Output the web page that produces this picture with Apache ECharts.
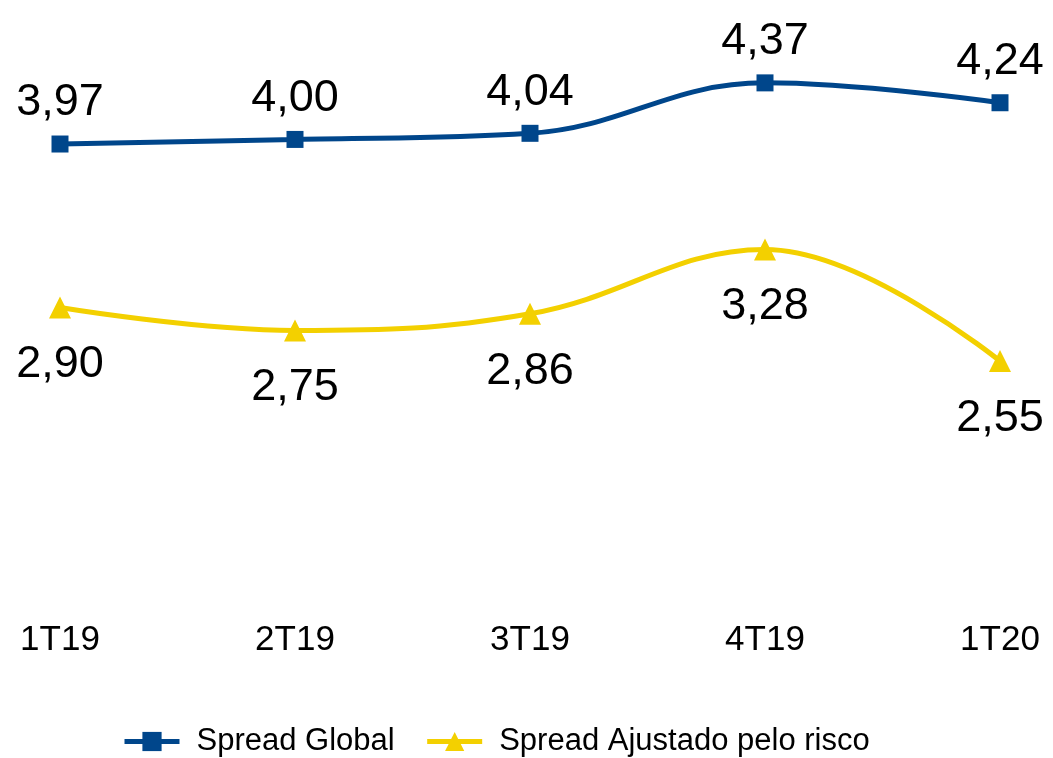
<!DOCTYPE html>
<html>
<head>
<meta charset="utf-8">
<script src="https://cdn.jsdelivr.net/npm/echarts@6/dist/echarts.min.js"></script>
<style>
  html, body { margin: 0; padding: 0; background: #fff; }
  #chart { width: 1053px; height: 758px; }
</style>
</head>
<body>
<div id="chart"></div>
<script>
// 数据
var categories = ['1T19', '2T19', '3T19', '4T19', '1T20'];
var spreadGlobal = [3.97, 4.00, 4.04, 4.37, 4.24];
var spreadAjustado = [2.90, 2.75, 2.86, 3.28, 2.55];
var seriesNames = ['Spread Global', 'Spread Ajustado pelo risco'];

var fontName = 'Liberation Sans, Arial, sans-serif';
var fmt = function (p) { return p.value.toFixed(2).replace('.', ','); };

var myChart = echarts.init(document.getElementById('chart'));
var option = {
  animation: false,
  textStyle: { fontFamily: fontName, color: '#000' },
  grid: { left: 60, right: 53, top: 63, bottom: 160, containLabel: false },
  legend: {
    top: 721,
    left: 117,
    itemWidth: 55,
    itemHeight: 24,
    itemGap: 30,
    lineStyle: { width: 5 },
    textStyle: { fontSize: 31, color: '#000', fontFamily: fontName, padding: [0, 0, 0, 12] },
    data: seriesNames
  },
  xAxis: {
    type: 'category',
    boundaryGap: false,
    data: categories,
    axisLine: { show: false },
    axisTick: { show: false },
    axisLabel: { fontSize: 35, color: '#000', margin: 25, fontFamily: fontName }
  },
  yAxis: {
    type: 'value',
    min: 1,
    max: 4.5,
    show: false,
    splitLine: { show: false }
  },
  series: [
    {
      name: seriesNames[0],
      type: 'line',
      data: spreadGlobal,
      smooth: 0.4,
      symbol: 'rect',
      symbolSize: 17,
      color: '#00468B',
      lineStyle: { width: 5, color: '#00468B' },
      label: {
        show: true,
        position: 'top',
        distance: 10,
        fontSize: 45,
        color: '#000',
        fontFamily: fontName,
        formatter: fmt
      }
    },
    {
      name: seriesNames[1],
      type: 'line',
      data: spreadAjustado,
      smooth: 0.4,
      symbol: 'triangle',
      symbolSize: 22,
      color: '#F3D000',
      lineStyle: { width: 5, color: '#F3D000' },
      label: {
        show: true,
        position: 'bottom',
        distance: 24,
        fontSize: 45,
        color: '#000',
        fontFamily: fontName,
        formatter: fmt
      }
    }
  ]
};
myChart.setOption(option);
window.onresize = myChart.resize;
</script>
</body>
</html>
